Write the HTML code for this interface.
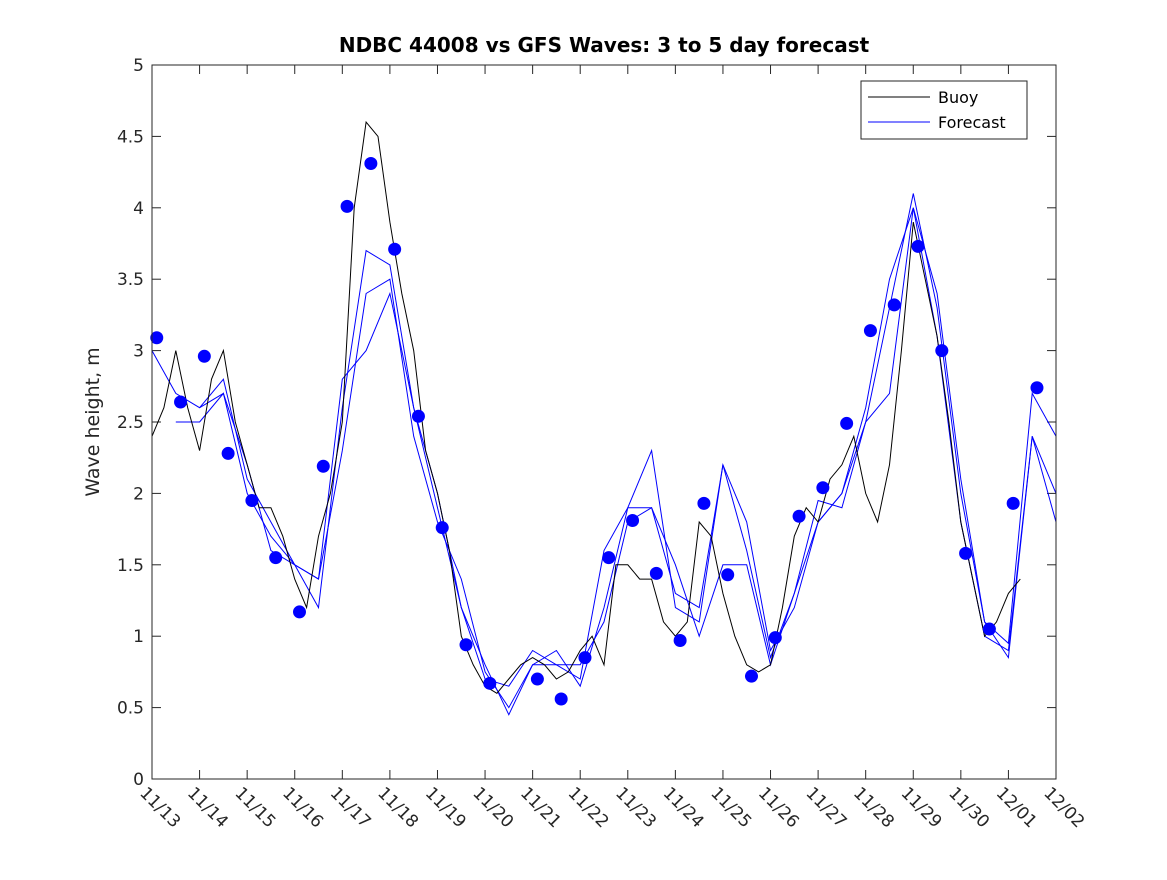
<!DOCTYPE html>
<html><head><meta charset="utf-8"><style>
body{margin:0;background:#fff;}
svg text{font-family:"DejaVu Sans","Liberation Sans",sans-serif;}
</style></head><body>
<svg id="chart" width="1167" height="875" xmlns="http://www.w3.org/2000/svg">
<rect width="1167" height="875" fill="#fff"/>
<text x="604" y="52" text-anchor="middle" font-weight="bold" font-size="20" fill="#000">NDBC 44008 vs GFS Waves: 3 to 5 day forecast</text>
<text transform="translate(99,422) rotate(-90)" text-anchor="middle" font-size="19" fill="#262626">Wave height, m</text>
<g id="plot"></g>
<g>
<rect x="861" y="81" width="166" height="58" fill="#fff" stroke="#262626" stroke-width="1"/>
<line x1="868" y1="97" x2="930" y2="97" stroke="#000"/>
<text x="938" y="103" font-size="16" fill="#000">Buoy</text>
<line x1="868" y1="122" x2="930" y2="122" stroke="#00f"/>
<text x="938" y="128" font-size="16" fill="#000">Forecast</text>
</g>
</svg>
<script>
const dateLabels=["11/13","11/14","11/15","11/16","11/17","11/18","11/19","11/20","11/21","11/22","11/23","11/24","11/25","11/26","11/27","11/28","11/29","11/30","12/01","12/02"];
const yTicks=[0,0.5,1,1.5,2,2.5,3,3.5,4,4.5,5];
const buoyStep=0.25;
const buoy=[2.4,2.6,3.0,2.6,2.3,2.8,3.0,2.5,2.2,1.9,1.9,1.7,1.4,1.2,1.7,2.0,2.5,4.0,4.6,4.5,3.9,3.4,3.0,2.3,2.0,1.6,1.0,0.8,0.65,0.6,0.7,0.8,0.85,0.8,0.7,0.75,0.9,1.0,0.8,1.5,1.5,1.4,1.4,1.1,1.0,1.1,1.8,1.7,1.3,1.0,0.8,0.75,0.8,1.2,1.7,1.9,1.8,2.1,2.2,2.4,2.0,1.8,2.2,3.0,3.9,3.5,3.1,2.5,1.8,1.4,1.0,1.1,1.3,1.4];
const fcStep=0.5;
const fc1=[3.0,2.7,2.6,2.8,2.1,1.8,1.5,1.2,2.6,3.7,3.6,2.6,1.9,1.2,0.7,0.65,0.9,0.8,0.7,1.6,1.9,1.9,1.3,1.2,2.2,1.6,0.85,1.3,1.95,1.9,2.5,3.3,4.1,3.3,2.0,1.1,0.95,2.7,2.4];
const fc2=[null,2.5,2.5,2.7,2.0,1.7,1.5,1.4,2.3,3.4,3.5,2.4,1.8,1.4,0.75,0.5,0.8,0.9,0.65,1.2,1.9,2.3,1.2,1.1,2.2,1.8,0.9,1.2,1.8,2.0,2.6,3.5,4.0,3.1,1.8,1.0,0.9,2.4,1.8];
const fc3=[null,null,2.6,2.7,2.2,1.6,1.5,1.4,2.8,3.0,3.4,2.6,2.0,1.2,0.8,0.45,0.8,0.8,0.8,1.1,1.8,1.9,1.5,1.0,1.5,1.5,0.8,1.3,1.8,2.0,2.5,2.7,4.0,3.4,2.1,1.1,0.85,2.4,2.0];
const dotStart=0.1;
const dots=[3.09,2.64,2.96,2.28,1.95,1.55,1.17,2.19,4.01,4.31,3.71,2.54,1.76,0.94,0.67,null,0.70,0.56,0.85,1.55,1.81,1.44,0.97,1.93,1.43,0.72,0.99,1.84,2.04,2.49,3.14,3.32,3.73,3.00,1.58,1.05,1.93,2.74];

const X0=152,X1=1056,Y0=779,Y1=65;
const xs=d=>X0+(X1-X0)*d/19;
const ys=v=>Y0-(Y0-Y1)*v/5;
const NS="http://www.w3.org/2000/svg";
const plot=document.getElementById('plot');
function mk(t,a,p){const e=document.createElementNS(NS,t);for(const k in a)e.setAttribute(k,a[k]);(p||plot).appendChild(e);return e;}

const frame=mk('rect',{x:X0,y:Y1,width:X1-X0,height:Y0-Y1,fill:'#fff',stroke:'#262626','stroke-width':1});



yTicks.forEach(v=>{
  const y=ys(v);
  mk('line',{x1:X0,y1:y,x2:X0+9,y2:y,stroke:'#262626'});
  mk('line',{x1:X1,y1:y,x2:X1-9,y2:y,stroke:'#262626'});
  const t=mk('text',{x:X0-8,y:y+6,'text-anchor':'end','font-size':17,fill:'#262626'});
  t.textContent=String(v);
  
  
});
dateLabels.forEach((s,i)=>{
  const x=xs(i);
  mk('line',{x1:x,y1:Y0,x2:x,y2:Y0-9,stroke:'#262626'});
  mk('line',{x1:x,y1:Y1,x2:x,y2:Y1+9,stroke:'#262626'});
  const t=mk('text',{transform:`translate(${x-13},${Y0+15}) rotate(45)`,'font-size':17,fill:'#262626'});
  t.textContent=s;
  
  
});

function line(arr,step,start,color,name){
  let d='',pen=false;
  arr.forEach((v,i)=>{
    if(v==null){pen=false;return;}
    d+=(pen?'L':'M')+xs(start+i*step).toFixed(1)+','+ys(v).toFixed(1);pen=true;
  });
  const p=mk('path',{d:d,fill:'none',stroke:color,'stroke-width':1});
  
  
}
line(fc1,fcStep,0,'#00f','forecast-line-1');
line(fc2,fcStep,0,'#00f','forecast-line-2');
line(fc3,fcStep,0,'#00f','forecast-line-3');
line(buoy,buoyStep,0,'#000','buoy-line');
dots.forEach((v,i)=>{
  if(v==null)return;
  const c=mk('circle',{cx:xs(dotStart+i*0.5),cy:ys(v),r:6.5,fill:'#00f'});
  
  
});
mk('rect',{x:X0,y:Y1,width:X1-X0,height:Y0-Y1,fill:'none',stroke:'#262626','stroke-width':1});
</script>
</body></html>
